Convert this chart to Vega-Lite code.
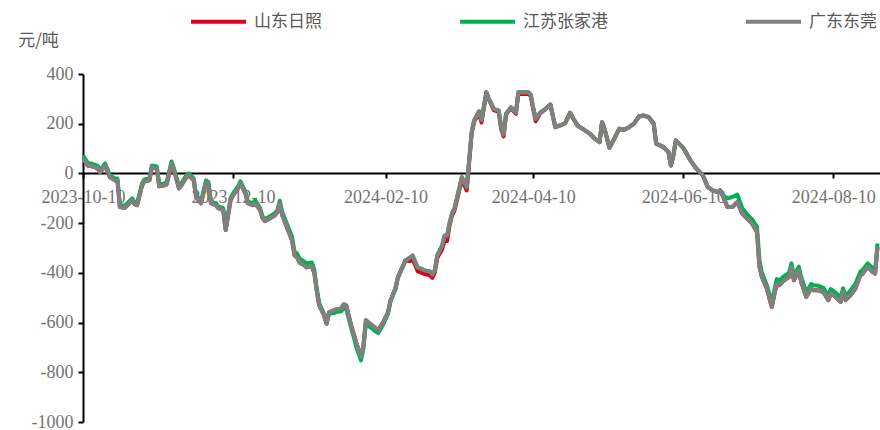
{
  "$schema": "https://vega.github.io/schema/vega-lite/v6.json",
  "width": 797,
  "height": 348,
  "autosize": {"type": "none"},
  "padding": {"left": 83, "top": 74, "right": 0, "bottom": 8},
  "background": "white",
  "config": {"view": {"stroke": null}, "font": "Liberation Serif"},
  "data": {"values": [
    {"d":"2023-10-10","山东日照":60,"江苏张家港":72,"广东东莞":60},
    {"d":"2023-10-12","山东日照":32,"江苏张家港":42,"广东东莞":32},
    {"d":"2023-10-14","山东日照":28,"江苏张家港":38,"广东东莞":28},
    {"d":"2023-10-16","山东日照":20,"江苏张家港":30,"广东东莞":20},
    {"d":"2023-10-17","山东日照":4,"江苏张家港":12,"广东东莞":4},
    {"d":"2023-10-19","山东日照":32,"江苏张家港":40,"广东东莞":32},
    {"d":"2023-10-21","山东日照":-16,"江苏张家港":-8,"广东东莞":-16},
    {"d":"2023-10-23","山东日照":-28,"江苏张家港":-20,"广东东莞":-28},
    {"d":"2023-10-24","山东日照":-28,"江苏张家港":-20,"广东东莞":-28},
    {"d":"2023-10-25","山东日照":-135,"江苏张家港":-128,"广东东莞":-135},
    {"d":"2023-10-27","山东日照":-138,"江苏张家港":-130,"广东东莞":-138},
    {"d":"2023-10-28","山东日照":-128,"江苏张家港":-120,"广东东莞":-128},
    {"d":"2023-10-30","山东日照":-108,"江苏张家港":-100,"广东东莞":-108},
    {"d":"2023-10-31","山东日照":-124,"江苏张家港":-116,"广东东莞":-124},
    {"d":"2023-11-01","山东日照":-128,"江苏张家港":-120,"广东东莞":-128},
    {"d":"2023-11-03","山东日照":-48,"江苏张家港":-40,"广东东莞":-48},
    {"d":"2023-11-04","山东日照":-32,"江苏张家港":-24,"广东东莞":-32},
    {"d":"2023-11-06","山东日照":-28,"江苏张家港":-20,"广东东莞":-28},
    {"d":"2023-11-07","山东日照":24,"江苏张家港":32,"广东东莞":24},
    {"d":"2023-11-09","山东日照":20,"江苏张家港":28,"广东东莞":20},
    {"d":"2023-11-10","山东日照":-52,"江苏张家港":-44,"广东东莞":-52},
    {"d":"2023-11-12","山东日照":-48,"江苏张家港":-40,"广东东莞":-48},
    {"d":"2023-11-13","山东日照":-44,"江苏张家港":-36,"广东东莞":-44},
    {"d":"2023-11-15","山东日照":40,"江苏张家港":48,"广东东莞":40},
    {"d":"2023-11-16","山东日照":12,"江苏张家港":20,"广东东莞":12},
    {"d":"2023-11-18","山东日照":-60,"江苏张家港":-52,"广东东莞":-60},
    {"d":"2023-11-19","山东日照":-48,"江苏张家港":-40,"广东东莞":-48},
    {"d":"2023-11-21","山东日照":-16,"江苏张家港":-8,"广东东莞":-16},
    {"d":"2023-11-22","山东日照":-8,"江苏张家港":0,"广东东莞":-8},
    {"d":"2023-11-24","山东日照":-28,"江苏张家港":-20,"广东东莞":-28},
    {"d":"2023-11-25","山东日照":-96,"江苏张家港":-88,"广东东莞":-96},
    {"d":"2023-11-27","山东日照":-120,"江苏张家港":-112,"广东东莞":-120},
    {"d":"2023-11-29","山东日照":-36,"江苏张家港":-28,"广东东莞":-36},
    {"d":"2023-11-30","山东日照":-44,"江苏张家港":-36,"广东东莞":-44},
    {"d":"2023-12-01","山东日照":-120,"江苏张家港":-112,"广东东莞":-120},
    {"d":"2023-12-03","山东日照":-128,"江苏张家港":-120,"广东东莞":-128},
    {"d":"2023-12-04","山东日照":-140,"江苏张家港":-132,"广东东莞":-140},
    {"d":"2023-12-06","山东日照":-148,"江苏张家港":-140,"广东东莞":-148},
    {"d":"2023-12-07","山东日照":-228,"江苏张家港":-222,"广东东莞":-228},
    {"d":"2023-12-09","山东日照":-108,"江苏张家港":-100,"广东东莞":-108},
    {"d":"2023-12-10","山东日照":-88,"江苏张家港":-80,"广东东莞":-88},
    {"d":"2023-12-12","山东日照":-60,"江苏张家港":-52,"广东东莞":-60},
    {"d":"2023-12-13","山东日照":-40,"江苏张家港":-32,"广东东莞":-40},
    {"d":"2023-12-15","山东日照":-80,"江苏张家港":-72,"广东东莞":-80},
    {"d":"2023-12-16","山东日照":-120,"江苏张家港":-112,"广东东莞":-120},
    {"d":"2023-12-18","山东日照":-128,"江苏张家港":-120,"广东东莞":-128},
    {"d":"2023-12-19","山东日照":-120,"江苏张家港":-108,"广东东莞":-120},
    {"d":"2023-12-21","山东日照":-148,"江苏张家港":-140,"广东东莞":-148},
    {"d":"2023-12-22","山东日照":-180,"江苏张家港":-172,"广东东莞":-180},
    {"d":"2023-12-23","山东日照":-192,"江苏张家港":-184,"广东东莞":-192},
    {"d":"2023-12-25","山东日照":-180,"江苏张家港":-172,"广东东莞":-180},
    {"d":"2023-12-27","山东日照":-168,"江苏张家港":-160,"广东东莞":-168},
    {"d":"2023-12-28","山东日照":-156,"江苏张家港":-148,"广东东莞":-156},
    {"d":"2023-12-29","山东日照":-120,"江苏张家港":-110,"广东东莞":-120},
    {"d":"2023-12-30","山东日照":-168,"江苏张家港":-155,"广东东莞":-168},
    {"d":"2024-01-01","山东日照":-220,"江苏张家港":-205,"广东东莞":-220},
    {"d":"2024-01-03","山东日照":-270,"江苏张家港":-255,"广东东莞":-270},
    {"d":"2024-01-04","山东日照":-330,"江苏张家港":-315,"广东东莞":-330},
    {"d":"2024-01-05","山东日照":-338,"江苏张家港":-322,"广东东莞":-338},
    {"d":"2024-01-06","山东日照":-358,"江苏张家港":-342,"广东东莞":-358},
    {"d":"2024-01-08","山东日照":-370,"江苏张家港":-355,"广东东莞":-370},
    {"d":"2024-01-09","山东日照":-378,"江苏张家港":-362,"广东东莞":-378},
    {"d":"2024-01-11","山东日照":-375,"江苏张家港":-358,"广东东莞":-375},
    {"d":"2024-01-12","山东日照":-398,"江苏张家港":-385,"广东东莞":-398},
    {"d":"2024-01-13","山东日照":-470,"江苏张家港":-460,"广东东莞":-470},
    {"d":"2024-01-14","山东日照":-530,"江苏张家港":-522,"广东东莞":-530},
    {"d":"2024-01-16","山东日照":-571,"江苏张家港":-565,"广东东莞":-571},
    {"d":"2024-01-17","山东日照":-605,"江苏张家港":-600,"广东东莞":-605},
    {"d":"2024-01-18","山东日照":-559,"江苏张家港":-565,"广东东莞":-559},
    {"d":"2024-01-20","山东日照":-551,"江苏张家港":-562,"广东东莞":-551},
    {"d":"2024-01-21","山东日照":-547,"江苏张家港":-558,"广东东莞":-547},
    {"d":"2024-01-23","山东日照":-543,"江苏张家港":-555,"广东东莞":-543},
    {"d":"2024-01-24","山东日照":-527,"江苏张家港":-540,"广东东莞":-527},
    {"d":"2024-01-25","山东日照":-531,"江苏张家港":-545,"广东东莞":-531},
    {"d":"2024-01-27","山东日照":-611,"江苏张家港":-622,"广东东莞":-611},
    {"d":"2024-01-28","山东日照":-643,"江苏张家港":-655,"广东东莞":-643},
    {"d":"2024-01-29","山东日照":-680,"江苏张家港":-695,"广东东莞":-680},
    {"d":"2024-01-31","山东日照":-737,"江苏张家港":-752,"广东东莞":-737},
    {"d":"2024-02-01","山东日照":-692,"江苏张家港":-705,"广东东莞":-692},
    {"d":"2024-02-02","山东日照":-591,"江苏张家港":-605,"广东东莞":-591},
    {"d":"2024-02-04","山东日照":-607,"江苏张家港":-620,"广东东莞":-607},
    {"d":"2024-02-06","山东日照":-623,"江苏张家港":-636,"广东东莞":-623},
    {"d":"2024-02-07","山东日照":-631,"江苏张家港":-642,"广东东莞":-631},
    {"d":"2024-02-09","山东日照":-599,"江苏张家港":-608,"广东东莞":-599},
    {"d":"2024-02-11","山东日照":-559,"江苏张家港":-565,"广东东莞":-559},
    {"d":"2024-02-12","山东日照":-511,"江苏张家港":-515,"广东东莞":-511},
    {"d":"2024-02-14","山东日照":-463,"江苏张家港":-466,"广东东莞":-463},
    {"d":"2024-02-15","山东日照":-418,"江苏张家港":-420,"广东东莞":-418},
    {"d":"2024-02-17","山东日照":-374,"江苏张家港":-376,"广东东莞":-374},
    {"d":"2024-02-18","山东日照":-350,"江苏张家港":-352,"广东东莞":-350},
    {"d":"2024-02-20","山东日照":-352,"江苏张家港":-338,"广东东莞":-338},
    {"d":"2024-02-21","山东日照":-343,"江苏张家港":-330,"广东东莞":-330},
    {"d":"2024-02-23","山东日照":-393,"江苏张家港":-378,"广东东莞":-378},
    {"d":"2024-02-24","山东日照":-397,"江苏张家港":-382,"广东东莞":-382},
    {"d":"2024-02-26","山东日照":-405,"江苏张家港":-390,"广东东莞":-390},
    {"d":"2024-02-28","山东日照":-410,"江苏张家港":-394,"广东东莞":-394},
    {"d":"2024-02-29","山东日照":-420,"江苏张家港":-406,"广东东莞":-406},
    {"d":"2024-03-01","山东日照":-400,"江苏张家港":-390,"广东东莞":-390},
    {"d":"2024-03-02","山东日照":-340,"江苏张家港":-330,"广东东莞":-330},
    {"d":"2024-03-04","山东日照":-305,"江苏张家港":-290,"广东东莞":-290},
    {"d":"2024-03-05","山东日照":-270,"江苏张家港":-250,"广东东莞":-250},
    {"d":"2024-03-06","山东日照":-272,"江苏张家港":-250,"广东东莞":-250},
    {"d":"2024-03-07","山东日照":-210,"江苏张家港":-200,"广东东莞":-200},
    {"d":"2024-03-08","山东日照":-170,"江苏张家港":-161,"广东东莞":-161},
    {"d":"2024-03-09","山东日照":-150,"江苏张家港":-141,"广东东莞":-141},
    {"d":"2024-03-10","山东日照":-108,"江苏张家港":-100,"广东东莞":-100},
    {"d":"2024-03-12","山东日照":-25,"江苏张家港":-15,"广东东莞":-15},
    {"d":"2024-03-14","山东日照":-68,"江苏张家港":-55,"广东东莞":-55},
    {"d":"2024-03-16","山东日照":160,"江苏张家港":166,"广东东莞":166},
    {"d":"2024-03-17","山东日照":208,"江苏张家港":213,"广东东莞":213},
    {"d":"2024-03-19","山东日照":242,"江苏张家港":250,"广东东莞":250},
    {"d":"2024-03-20","山东日照":205,"江苏张家港":216,"广东东莞":216},
    {"d":"2024-03-22","山东日照":325,"江苏张家港":327,"广东东莞":327},
    {"d":"2024-03-23","山东日照":298,"江苏张家港":300,"广东东莞":300},
    {"d":"2024-03-25","山东日照":255,"江苏张家港":260,"广东东莞":260},
    {"d":"2024-03-27","山东日照":248,"江苏张家港":253,"广东东莞":253},
    {"d":"2024-03-28","山东日照":178,"江苏张家港":186,"广东东莞":186},
    {"d":"2024-03-29","山东日照":149,"江苏张家港":157,"广东东莞":157},
    {"d":"2024-03-30","山东日照":238,"江苏张家港":240,"广东东莞":240},
    {"d":"2024-04-01","山东日照":262,"江苏张家港":266,"广东东莞":266},
    {"d":"2024-04-03","山东日照":240,"江苏张家港":246,"广东东莞":246},
    {"d":"2024-04-04","山东日照":325,"江苏张家港":327,"广东东莞":327},
    {"d":"2024-04-05","山东日照":320,"江苏张家港":327,"广东东莞":327},
    {"d":"2024-04-08","山东日照":320,"江苏张家港":327,"广东东莞":327},
    {"d":"2024-04-09","山东日照":312,"江苏张家港":317,"广东东莞":317},
    {"d":"2024-04-10","山东日照":260,"江苏张家港":266,"广东东莞":266},
    {"d":"2024-04-11","山东日照":210,"江苏张家港":220,"广东东莞":220},
    {"d":"2024-04-13","山东日照":244,"江苏张家港":246,"广东东莞":246},
    {"d":"2024-04-15","山东日照":258,"江苏张家港":260,"广东东莞":260},
    {"d":"2024-04-17","山东日照":277,"江苏张家港":277,"广东东莞":277},
    {"d":"2024-04-19","山东日照":186,"江苏张家港":186,"广东东莞":186},
    {"d":"2024-04-21","山东日照":193,"江苏张家港":193,"广东东莞":193},
    {"d":"2024-04-23","山东日照":202,"江苏张家港":202,"广东东莞":202},
    {"d":"2024-04-25","山东日照":244,"江苏张家港":244,"广东东莞":244},
    {"d":"2024-04-26","山东日照":226,"江苏张家港":226,"广东东莞":226},
    {"d":"2024-04-28","山东日照":193,"江苏张家港":193,"广东东莞":193},
    {"d":"2024-04-30","山东日照":180,"江苏张家港":180,"广东东莞":180},
    {"d":"2024-05-03","山东日照":160,"江苏张家港":160,"广东东莞":160},
    {"d":"2024-05-05","山东日照":140,"江苏张家港":140,"广东东莞":140},
    {"d":"2024-05-07","山东日照":126,"江苏张家港":126,"广东东莞":126},
    {"d":"2024-05-08","山东日照":206,"江苏张家港":206,"广东东莞":206},
    {"d":"2024-05-09","山东日照":180,"江苏张家港":180,"广东东莞":180},
    {"d":"2024-05-11","山东日照":103,"江苏张家港":103,"广东东莞":103},
    {"d":"2024-05-13","山东日照":140,"江苏张家港":140,"广东东莞":140},
    {"d":"2024-05-15","山东日照":180,"江苏张家港":180,"广东东莞":180},
    {"d":"2024-05-17","山东日照":176,"江苏张家港":176,"广东东莞":176},
    {"d":"2024-05-19","山东日照":186,"江苏张家港":186,"广东东莞":186},
    {"d":"2024-05-21","山东日照":200,"江苏张家港":200,"广东东莞":200},
    {"d":"2024-05-23","山东日照":229,"江苏张家港":229,"广东东莞":229},
    {"d":"2024-05-25","山东日照":233,"江苏张家港":233,"广东东莞":233},
    {"d":"2024-05-27","山东日照":226,"江苏张家港":226,"广东东莞":226},
    {"d":"2024-05-29","山东日照":200,"江苏张家港":200,"广东东莞":200},
    {"d":"2024-05-30","山东日照":120,"江苏张家港":120,"广东东莞":120},
    {"d":"2024-06-02","山东日照":106,"江苏张家港":106,"广东东莞":106},
    {"d":"2024-06-04","山东日照":86,"江苏张家港":86,"广东东莞":86},
    {"d":"2024-06-05","山东日照":32,"江苏张家港":32,"广东东莞":32},
    {"d":"2024-06-06","山东日照":72,"江苏张家港":72,"广东东莞":72},
    {"d":"2024-06-07","山东日照":133,"江苏张家港":133,"广东东莞":133},
    {"d":"2024-06-10","山东日照":103,"江苏张家港":103,"广东东莞":103},
    {"d":"2024-06-13","山东日照":52,"江苏张家港":52,"广东东莞":52},
    {"d":"2024-06-15","山东日照":23,"江苏张家港":23,"广东东莞":23},
    {"d":"2024-06-18","山东日照":-8,"江苏张家港":-8,"广东东莞":-8},
    {"d":"2024-06-20","山东日照":-55,"江苏张家港":-55,"广东东莞":-55},
    {"d":"2024-06-22","山东日照":-68,"江苏张家港":-68,"广东东莞":-68},
    {"d":"2024-06-24","山东日照":-75,"江苏张家港":-75,"广东东莞":-75},
    {"d":"2024-06-25","山东日照":-68,"江苏张家港":-68,"广东东莞":-68},
    {"d":"2024-06-26","山东日照":-88,"江苏张家港":-88,"广东东莞":-88},
    {"d":"2024-06-28","山东日照":-135,"江苏张家港":-100,"广东东莞":-135},
    {"d":"2024-06-30","山东日照":-135,"江苏张家港":-95,"广东东莞":-135},
    {"d":"2024-07-02","山东日照":-115,"江苏张家港":-85,"广东东莞":-115},
    {"d":"2024-07-04","山东日照":-162,"江苏张家港":-140,"广东东莞":-162},
    {"d":"2024-07-06","山东日照":-182,"江苏张家港":-165,"广东东莞":-182},
    {"d":"2024-07-08","山东日照":-202,"江苏张家港":-185,"广东东莞":-202},
    {"d":"2024-07-10","山东日照":-236,"江苏张家港":-215,"广东东莞":-236},
    {"d":"2024-07-11","山东日照":-376,"江苏张家港":-350,"广东东莞":-376},
    {"d":"2024-07-12","山东日照":-417,"江苏张家港":-400,"广东东莞":-417},
    {"d":"2024-07-14","山东日照":-463,"江苏张家港":-450,"广东东莞":-463},
    {"d":"2024-07-16","山东日照":-537,"江苏张家港":-520,"广东东莞":-537},
    {"d":"2024-07-18","山东日照":-443,"江苏张家港":-425,"广东东莞":-443},
    {"d":"2024-07-19","山东日照":-450,"江苏张家港":-432,"广东东莞":-450},
    {"d":"2024-07-21","山东日照":-430,"江苏张家港":-413,"广东东莞":-430},
    {"d":"2024-07-23","山东日照":-417,"江苏张家港":-400,"广东东莞":-417},
    {"d":"2024-07-24","山东日照":-376,"江苏张家港":-362,"广东东莞":-376},
    {"d":"2024-07-25","山东日照":-430,"江苏张家港":-410,"广东东莞":-430},
    {"d":"2024-07-27","山东日照":-390,"江苏张家港":-375,"广东东莞":-390},
    {"d":"2024-07-28","山东日照":-437,"江苏张家港":-418,"广东东莞":-437},
    {"d":"2024-07-30","山东日照":-497,"江苏张家港":-478,"广东东莞":-497},
    {"d":"2024-08-01","山东日照":-463,"江苏张家港":-445,"广东东莞":-463},
    {"d":"2024-08-02","山东日照":-470,"江苏张家港":-450,"广东东莞":-470},
    {"d":"2024-08-04","山东日照":-470,"江苏张家港":-452,"广东东莞":-470},
    {"d":"2024-08-06","山东日照":-477,"江苏张家港":-460,"广东东莞":-477},
    {"d":"2024-08-08","山东日照":-510,"江苏张家港":-492,"广东东莞":-510},
    {"d":"2024-08-09","山东日照":-483,"江苏张家港":-465,"广东东莞":-483},
    {"d":"2024-08-11","山东日照":-497,"江苏张家港":-480,"广东东莞":-497},
    {"d":"2024-08-13","山东日照":-517,"江苏张家港":-500,"广东东莞":-517},
    {"d":"2024-08-14","山东日照":-477,"江苏张家港":-462,"广东东莞":-477},
    {"d":"2024-08-15","山东日照":-510,"江苏张家港":-492,"广东东莞":-510},
    {"d":"2024-08-17","山东日照":-490,"江苏张家港":-472,"广东东莞":-490},
    {"d":"2024-08-19","山东日照":-463,"江苏张家港":-445,"广东东莞":-463},
    {"d":"2024-08-21","山东日照":-410,"江苏张家港":-395,"广东东莞":-410},
    {"d":"2024-08-22","山东日照":-403,"江苏张家港":-388,"广东东莞":-403},
    {"d":"2024-08-24","山东日照":-376,"江苏张家港":-362,"广东东莞":-376},
    {"d":"2024-08-26","山东日照":-396,"江苏张家港":-380,"广东东莞":-396},
    {"d":"2024-08-27","山东日照":-403,"江苏张家港":-388,"广东东莞":-403},
    {"d":"2024-08-28","山东日照":-295,"江苏张家港":-282,"广东东莞":-295}
  ]},
  "transform": [{"fold": ["山东日照", "江苏张家港", "广东东莞"], "as": ["series", "value"]}],
  "encoding": {
    "x": {
      "field": "d", "type": "temporal",
      "scale": {"type": "utc", "domain": [{"year": 2023, "month": 10, "date": 10, "utc": true}, {"year": 2024, "month": 8, "date": 29, "utc": true}]},
      "axis": {
        "values": [
          {"year": 2023, "month": 10, "date": 10, "utc": true},
          {"year": 2023, "month": 12, "date": 10, "utc": true},
          {"year": 2024, "month": 2, "date": 10, "utc": true},
          {"year": 2024, "month": 4, "date": 10, "utc": true},
          {"year": 2024, "month": 6, "date": 10, "utc": true},
          {"year": 2024, "month": 8, "date": 10, "utc": true}
        ],
        "format": "%Y-%m-%d",
        "offset": -249,
        "domainColor": "#000000", "domainWidth": 2,
        "tickColor": "#000000", "tickWidth": 2, "tickSize": 5,
        "labelFont": "Liberation Serif", "labelFontSize": 18, "labelColor": "#737373",
        "labelPadding": 10, "labelFlush": false, "labelOverlap": false, "labelBound": false,
        "grid": false, "title": null
      }
    },
    "y": {
      "field": "value", "type": "quantitative",
      "scale": {"domain": [-1000, 400], "nice": false, "zero": false},
      "axis": {
        "values": [-1000, -800, -600, -400, -200, 0, 200, 400],
        "labelExpr": "'' + datum.value",
        "domainColor": "#000000", "domainWidth": 2,
        "tickColor": "#000000", "tickWidth": 2, "tickSize": 5,
        "labelFont": "Liberation Serif", "labelFontSize": 18, "labelColor": "#737373",
        "labelPadding": 5, "grid": false,
        "title": "元/吨", "titleAngle": 0, "titleX": -45, "titleY": -34,
        "titleFont": "Noto Sans CJK SC", "titleFontSize": 17, "titleFontWeight": "normal",
        "titleColor": "#595959", "titleAlign": "center", "titleBaseline": "middle"
      }
    },
    "color": {
      "field": "series", "type": "nominal",
      "scale": {"domain": ["山东日照", "江苏张家港", "广东东莞"], "range": ["#e0001b", "#00b050", "#808080"]},
      "legend": {
        "orient": "none", "legendX": 106, "legendY": -82, "direction": "horizontal", "title": null,
        "symbolType": "stroke", "symbolSize": 3025, "symbolStrokeWidth": 4,
        "labelFont": "Noto Sans CJK SC", "labelFontSize": 17, "labelColor": "#595959",
        "columnPadding": 130, "labelOffset": 6, "labelLimit": 300
      }
    }
  },
  "layer": [
    {"transform": [{"filter": {"field": "series", "equal": "山东日照"}}], "mark": {"type": "line", "strokeWidth": 4, "strokeJoin": "round", "clip": true}},
    {"transform": [{"filter": {"field": "series", "equal": "江苏张家港"}}], "mark": {"type": "line", "strokeWidth": 4, "strokeJoin": "round", "clip": true}},
    {"transform": [{"filter": {"field": "series", "equal": "广东东莞"}}], "mark": {"type": "line", "strokeWidth": 4, "strokeJoin": "round", "clip": true}}
  ]
}
